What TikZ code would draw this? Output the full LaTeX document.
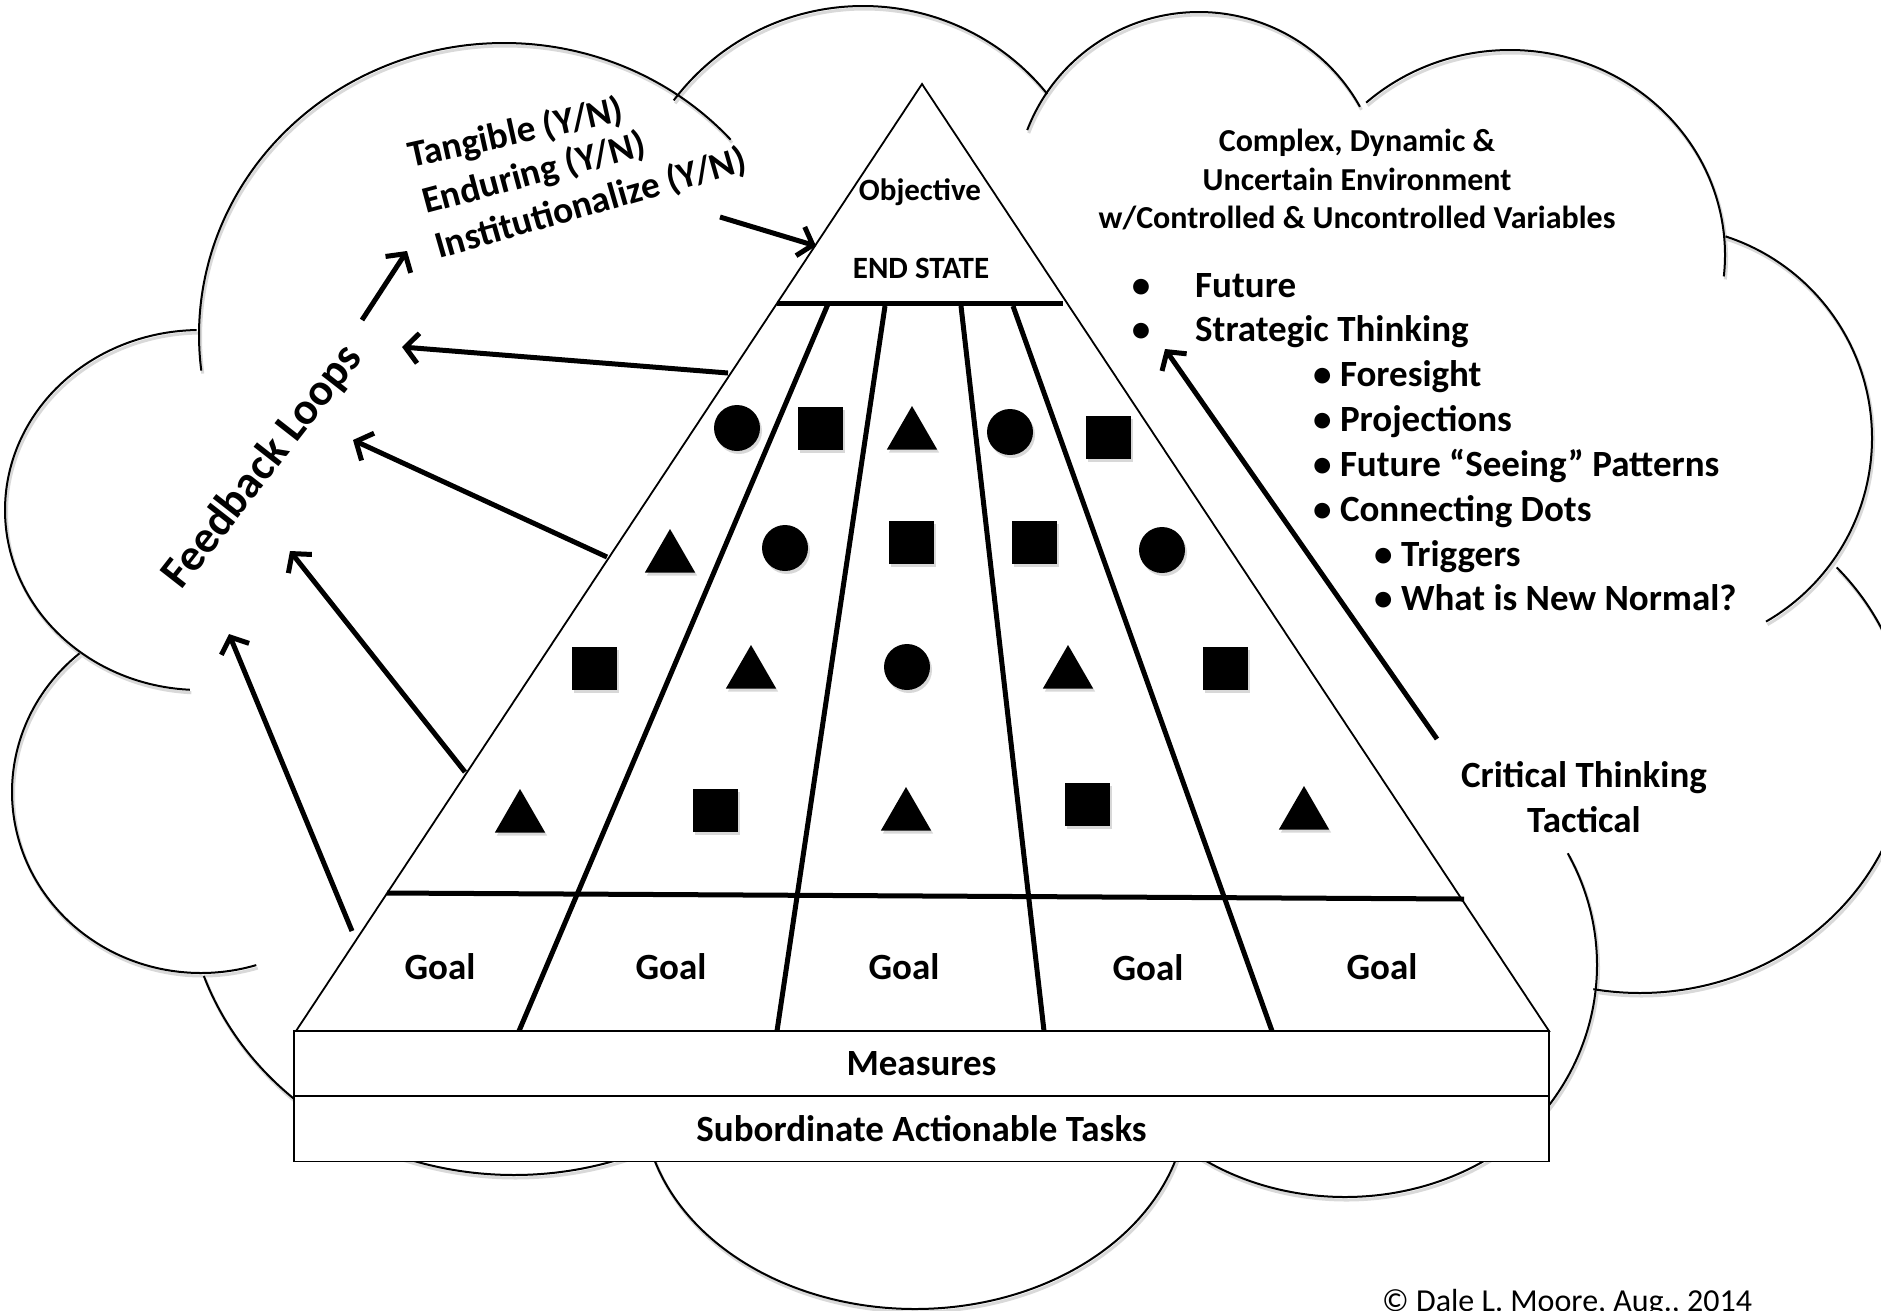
\documentclass[tikz,border=0pt]{standalone}
\usepackage{fontspec}
\setmainfont{Carlito}
\usetikzlibrary{arrows.meta,shapes.geometric,shadows}

% cloud outline: centre x, centre y, x radius, y radius, first angle, last angle
\newcommand\cloudbumps{200/510/195/180/93/269,504/335/305/292/173/318,863/243/237/237/217/321,1199/196/184/184/201/331,1510/255/215/205/228/366,1660/438/212/212/288/420,1640/740/269/253/-43/100,1347/965/250/238/-28/40,1345/1000/241/197/40/140,915/1100/272/209/10/170,514/880/328/295/60/161,201/792/189/181/73/230}

\begin{document}
\begin{tikzpicture}[x=1pt,y=-1pt,
  cloudarc/.style={line width=2pt,black},
  cloudshadow/.style={line width=3pt,black!15,shift={(1.5,3)}},
  edgeline/.style={line width=1.8pt,black},
  heavyline/.style={line width=5pt,black},
  fbarrow/.style={line width=5pt,-{Straight Barb[length=13pt,width=30pt]}},
  softshadow/.style={drop shadow={shadow xshift=2pt,shadow yshift=-3pt,opacity=0.3}},
  sqmark/.style={rectangle,fill=black,minimum width=45pt,minimum height=43pt,inner sep=0pt,softshadow},
  dotmark/.style={circle,fill=black,minimum size=46pt,inner sep=0pt,softshadow},
  trimark/.style={regular polygon,regular polygon sides=3,fill=black,minimum size=58pt,inner sep=0pt,softshadow},
  fa/.style={inner sep=0pt,font=\bfseries\fontsize{32}{38}\selectfont},
  fb/.style={inner sep=0pt,font=\bfseries\fontsize{31}{37}\selectfont},
  fc/.style={inner sep=0pt,font=\bfseries\fontsize{37.5}{45}\selectfont},
  fd/.style={inner sep=0pt,font=\bfseries\fontsize{37}{45}\selectfont},
  fe/.style={inner sep=0pt,font=\bfseries\fontsize{45}{54}\selectfont},
  fcopy/.style={inner sep=0pt,font=\fontsize{32}{38}\selectfont},
  rowbox/.style={draw,line width=1.8pt,fill=white,rectangle,minimum width=1255pt,minimum height=65pt,inner sep=0pt,fd},
]
\useasboundingbox (0,0) rectangle (1881,1310);
\clip (0,0) rectangle (1881,1310);

% ---- cloud ----
\foreach \cx/\cy/\rx/\ry/\ta/\tb in \cloudbumps
  \draw[cloudshadow] plot[domain=\ta:\tb,samples=80,smooth,variable=\t] ({\cx+\rx*cos(\t)},{\cy+\ry*sin(\t)});
\foreach \cx/\cy/\rx/\ry/\ta/\tb in \cloudbumps
  \draw[cloudarc] plot[domain=\ta:\tb,samples=80,smooth,variable=\t] ({\cx+\rx*cos(\t)},{\cy+\ry*sin(\t)});

% ---- pyramid ----
\coordinate (apex) at (922,84);
\coordinate (bl) at (296,1031);
\coordinate (br) at (1549,1031);
\draw[edgeline,fill=white] (apex) -- (bl) -- (br) -- cycle;

\coordinate (tbl) at (777,303);
\coordinate (tbr) at (1063,303);
\coordinate (lbl) at (387,893);
\coordinate (lbr) at (1464,899);
\draw[heavyline] (tbl) -- (tbr);
\draw[heavyline] (lbl) -- (lbr);

\coordinate (d1t) at (828,304);  \coordinate (d1b) at (519,1031);
\coordinate (d2t) at (885,306);  \coordinate (d2b) at (777,1031);
\coordinate (d3t) at (961,306);  \coordinate (d3b) at (1044,1031);
\coordinate (d4t) at (1013,306); \coordinate (d4b) at (1272,1031);
\draw[heavyline] (d1t) -- (d1b);
\draw[heavyline] (d2t) -- (d2b);
\draw[heavyline] (d3t) -- (d3b);
\draw[heavyline] (d4t) -- (d4b);

\node[fb,anchor=base] (obj) at (920,200) {Objective};
\node[fb,anchor=base] (endst) at (921,278) {END STATE};

% markers, row by row
\node[dotmark] (m11) at (737,428) {};
\node[sqmark]  (m12) at (820,428) {};
\node[trimark] (m13) at (912,435) {};
\node[dotmark] (m14) at (1010,432) {};
\node[sqmark]  (m15) at (1108,437) {};

\node[trimark] (m21) at (670,558) {};
\node[dotmark] (m22) at (785,548) {};
\node[sqmark]  (m23) at (911,542) {};
\node[sqmark]  (m24) at (1034,542) {};
\node[dotmark] (m25) at (1162,550) {};

\node[sqmark]  (m31) at (594,668) {};
\node[trimark] (m32) at (751,674) {};
\node[dotmark] (m33) at (907,667) {};
\node[trimark] (m34) at (1068,674) {};
\node[sqmark]  (m35) at (1225,668) {};

\node[trimark] (m41) at (520,818) {};
\node[sqmark]  (m42) at (715,810) {};
\node[trimark] (m43) at (906,816) {};
\node[sqmark]  (m44) at (1087,804) {};
\node[trimark] (m45) at (1304,815) {};

\node[fd,anchor=base] (g1) at (440,979) {Goal};
\node[fd,anchor=base] (g2) at (671,979) {Goal};
\node[fd,anchor=base] (g3) at (904,979) {Goal};
\node[fd,anchor=base] (g4) at (1148,980) {Goal};
\node[fd,anchor=base] (g5) at (1382,979) {Goal};

\node[rowbox] (meas) at (921.5,1063.5) {Measures};
\node[rowbox] (tasks) at (921.5,1129) {Subordinate Actionable Tasks};

% ---- feedback side ----
\node[fe,rotate=52] (loops) at (263,467) {Feedback Loops};
\node[fc,anchor=base west,rotate=12.5] (tang) at (411,168) {Tangible (Y/N)};
\node[fc,anchor=base west,rotate=15] (endu) at (426,214) {Enduring (Y/N)};
\node[fc,anchor=base west,rotate=16] (inst) at (439,259) {Institutionalize (Y/N)};

\coordinate (a1s) at (362,320);  \coordinate (a1e) at (407,251);
\coordinate (a2s) at (728,373);  \coordinate (a2e) at (402,347);
\coordinate (a3s) at (607,557);  \coordinate (a3e) at (353,440);
\coordinate (a4s) at (465,772);  \coordinate (a4e) at (290,551);
\coordinate (a5s) at (352,931);  \coordinate (a5e) at (229,634);
\coordinate (a6s) at (720,217);  \coordinate (a6e) at (816,246);
\draw[fbarrow] (a1s) -- (a1e);
\draw[fbarrow] (a2s) -- (a2e);
\draw[fbarrow] (a3s) -- (a3e);
\draw[fbarrow] (a4s) -- (a4e);
\draw[fbarrow] (a5s) -- (a5e);
\draw[fbarrow] (a6s) -- (a6e);

% ---- environment side ----
\node[fa,anchor=base] (env1) at (1357,151) {Complex, Dynamic \&};
\node[fa,anchor=base] (env2) at (1357,190) {Uncertain Environment};
\node[fa,anchor=base] (env3) at (1357,228) {w/Controlled \& Uncontrolled Variables};

\node[fd,anchor=base] (bu1) at (1141,297) {•};
\node[fd,anchor=base west] (fut) at (1195,297) {Future};
\node[fd,anchor=base] (bu2) at (1141,341) {•};
\node[fd,anchor=base west] (strat) at (1195,341) {Strategic Thinking};
\node[fd,anchor=base west] (fore) at (1313,386) {• Foresight};
\node[fd,anchor=base west] (proj) at (1313,431) {• Projections};
\node[fd,anchor=base west] (patt) at (1313,476) {• Future “Seeing” Patterns};
\node[fd,anchor=base west] (dots) at (1313,521) {• Connecting Dots};
\node[fd,anchor=base west] (trig) at (1374,566) {• Triggers};
\node[fd,anchor=base west] (norm) at (1374,610) {• What is New Normal?};

\node[fd,anchor=base] (crit) at (1584,787) {Critical Thinking};
\node[fd,anchor=base] (tact) at (1584,832) {Tactical};

\coordinate (a7s) at (1437,739); \coordinate (a7e) at (1165,349);
\draw[fbarrow] (a7s) -- (a7e);

\node[fcopy,anchor=base west] (copy) at (1382,1311) {© Dale L. Moore, Aug., 2014};
\end{tikzpicture}
\end{document}
